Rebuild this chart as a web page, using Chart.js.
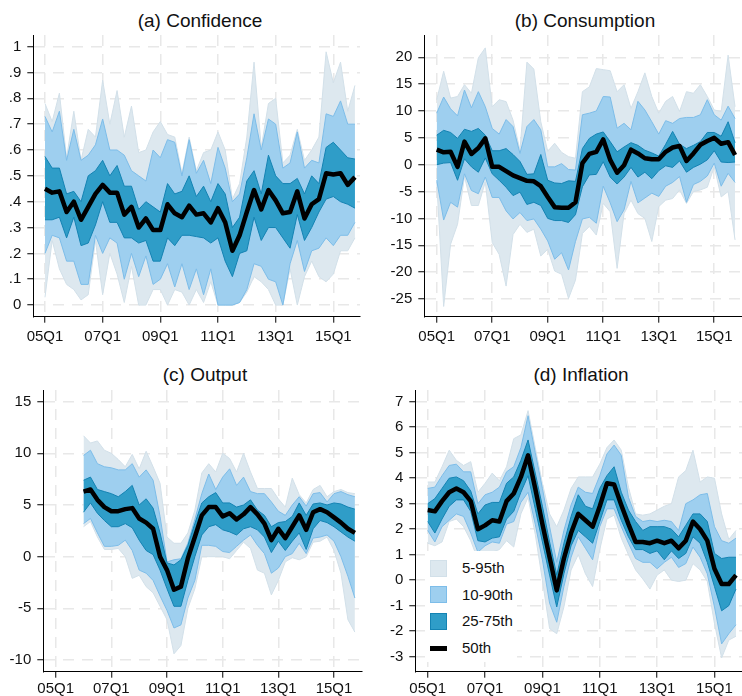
<!DOCTYPE html>
<html>
<head>
<meta charset="utf-8">
<script src="https://cdn.jsdelivr.net/npm/chart.js@4.4.1/dist/chart.umd.min.js"></script>
<style>
  body { margin: 0; background: #fff; width: 742px; height: 696px; position: relative; overflow: hidden;
         font-family: 'Liberation Sans', Arial, Helvetica, sans-serif; color: #111; }
  .panel { position: absolute; }
  .title { position: absolute; width: 300px; text-align: center; font-size: 19px; line-height: 22px; }
  #legend { position: absolute; left: 425px; top: 551px; width: 92px; height: 111px; background: #fff; }
  #legend .sw { position: absolute; left: 5px; width: 15px; height: 15px; }
  #legend .lab { position: absolute; left: 37px; font-size: 15px; line-height: 18px; }
</style>
</head>
<body>

<div class="title" style="left:50px;top:10px">(a) Confidence</div>
<div class="title" style="left:435px;top:10px">(b) Consumption</div>
<div class="title" style="left:55px;top:364px">(c) Output</div>
<div class="title" style="left:431px;top:364px">(d) Inflation</div>

<canvas id="pa" class="panel" style="left:0;top:0" width="371" height="352"></canvas>
<canvas id="pb" class="panel" style="left:371px;top:0" width="371" height="352"></canvas>
<canvas id="pc" class="panel" style="left:0;top:340px" width="371" height="366"></canvas>
<canvas id="pd" class="panel" style="left:371px;top:340px" width="371" height="366"></canvas>

<div id="legend">
  <div class="sw" style="top:9px;background:#dde8ef;border:1px solid #d2e0e9"></div>
  <div class="lab" style="top:8px">5-95th</div>
  <div class="sw" style="top:35px;background:#9ecfef;border:1px solid #7dbde9"></div>
  <div class="lab" style="top:35px">10-90th</div>
  <div class="sw" style="top:62px;background:#2f9dc8;border:1px solid #1483b3"></div>
  <div class="lab" style="top:61px">25-75th</div>
  <div class="sw" style="top:95px;height:5px;width:17px;border:0;background:#000"></div>
  <div class="lab" style="top:88px">50th</div>
</div>

<script>
// quarters 05Q1 .. 15Q4, x = index
const xTickPos = [0, 8, 16, 24, 32, 40];
const xTickLabels = ['05Q1', '07Q1', '09Q1', '11Q1', '13Q1', '15Q1'];

// (a) Confidence
const confTicks = [0, .1, .2, .3, .4, .5, .6, .7, .8, .9, 1];
const confTickLabels = ['0', '.1', '.2', '.3', '.4', '.5', '.6', '.7', '.8', '.9', '1'];
const confP50 = [.45,.435,.44,.36,.40,.33,.38,.43,.465,.435,.435,.35,.38,.30,.335,.29,.29,.39,.355,.34,.385,.35,.355,.32,.375,.32,.21,.27,.36,.445,.37,.445,.405,.355,.36,.44,.335,.39,.41,.51,.505,.51,.465,.495];
const confP75 = [.575,.53,.53,.43,.44,.40,.50,.52,.56,.50,.54,.46,.46,.37,.40,.38,.36,.47,.43,.44,.50,.42,.46,.40,.47,.43,.30,.34,.48,.52,.43,.58,.50,.47,.47,.49,.43,.50,.47,.61,.63,.60,.57,.565];
const confP25 = [.33,.33,.34,.26,.34,.23,.24,.31,.40,.32,.32,.26,.26,.24,.25,.17,.17,.26,.23,.27,.27,.265,.26,.24,.26,.17,.11,.20,.21,.34,.25,.30,.30,.26,.22,.35,.25,.30,.36,.41,.42,.40,.39,.375];
const confP90 = [.73,.67,.75,.56,.68,.56,.58,.62,.72,.60,.60,.58,.52,.50,.48,.60,.57,.64,.63,.50,.64,.51,.56,.47,.61,.53,.40,.43,.57,.74,.60,.72,.70,.53,.55,.67,.53,.56,.55,.74,.73,.79,.70,.70];
const confP10 = [.20,.27,.26,.17,.17,.08,.08,.27,.20,.26,.24,.10,.20,.11,.19,.08,.10,.16,.07,.16,.06,.14,.04,.14,0,0,0,.01,.06,.16,.15,.10,.09,0,.16,.25,.13,.21,.22,.26,.23,.27,.27,.32];
const confP95 = [.78,.71,.82,.57,.75,.56,.68,.65,.87,.70,.83,.65,.77,.59,.60,.67,.71,.66,.65,.51,.65,.52,.59,.60,.67,.60,.41,.47,.65,.94,.61,.78,.80,.55,.58,.68,.56,.60,.65,.98,.86,.94,.75,.85];
const confP5 = [.03,.25,.14,.08,.06,.02,.04,.25,.04,.20,.12,.01,.15,0,0,.06,.06,0,.06,.05,0,.06,.01,.09,0,0,0,.01,.05,.11,.09,.06,0,0,.14,0,.11,.17,.11,.09,.12,.21,.21,.26];

// (b) Consumption
const consTicks = [-25, -20, -15, -10, -5, 0, 5, 10, 15, 20];
const consTickLabels = ['-25', '-20', '-15', '-10', '-5', '0', '5', '10', '15', '20'];
const consP50 = [2.8,2.3,2.4,-0.4,4.3,2.0,3.1,4.9,-0.4,-0.4,-1.2,-2.0,-2.5,-3.0,-3.1,-4.0,-6.0,-7.9,-8.0,-8.0,-7.0,0.3,2.0,2.4,4.7,0.9,-1.5,-0.1,2.8,2.1,1.2,1.0,1.0,2.4,3.2,3.5,0.7,2.1,3.7,4.4,5.0,3.9,4.2,1.8];
const consP75 = [5.5,6.4,6.0,4.9,6.6,6.2,6.75,5.5,2.6,2.6,3.0,1.9,0.6,-1.8,-1.7,1.9,-2.9,-3.4,-3.5,-3.0,-3.1,3.0,4.9,5.7,6.1,4.3,2.4,3.3,4.1,3.6,2.7,2.2,1.6,3.8,6.2,3.8,3.0,3.6,4.3,6.0,6.0,5.3,8.0,4.1];
const consP25 = [0,0.3,0.4,-2.9,1.1,-0.4,-1.4,1.25,-1.7,-2.9,-4.2,-5.75,-5.1,-7.4,-7.0,-7.6,-10.0,-10.4,-10.4,-10.75,-9.3,-4.1,-1.9,-1.8,0.56,-2.3,-3.6,-2.3,-0.5,-2.3,-1.4,-2.6,-1.1,-0.2,-0.5,0.7,-1.4,-0.5,0.1,0.9,2.6,0.5,0.4,0.5];
const consP90 = [9.6,12.6,10.4,9.1,13.9,10.6,13.6,10.8,6.75,5.7,8.4,7.1,2.1,7.1,8.4,6.5,-0.4,-0.4,0.2,-0.9,-1.0,9.3,9.6,10.0,12.7,12.6,6.8,7.7,6.5,11.8,10.2,8.0,5.7,8.2,7.7,8.6,8.8,8.8,9.3,12.1,9.3,8.3,10.9,8.6];
const consP10 = [-2.9,-10.3,-7.0,-7.9,-1.7,-4.8,-5.4,-2.3,-6.1,-6.1,-8.6,-10.1,-8.9,-10.4,-10.1,-12.0,-14.2,-17.6,-16.4,-19.6,-14.3,-10.1,-9.8,-10.9,-4.0,-7.1,-10.6,-8.4,-3.1,-7.1,-6.2,-5.3,-5.9,-4.0,-3.3,-2.2,-7.0,-3.7,-3.1,-2.1,0.3,-4.0,-1.6,-3.3];
const consP95 = [12.1,17.4,12.4,12.7,14.9,13.3,19.9,21.75,10.8,12.1,11.75,8.3,2.7,19.1,17.8,8.0,2.5,4.0,2.3,1.5,1.2,13.6,14.5,17.9,17.7,17.5,13.6,14.9,10.5,13.6,17.1,12.7,9.6,11.8,12.7,9.9,13.6,13.3,14.9,12.7,10.2,9.9,20.4,10.8];
const consP5 = [-3.2,-26.4,-14.8,-11.1,-2.2,-7.6,-7.6,-3.25,-14.5,-16.7,-22.6,-13.0,-11.1,-12.6,-12.0,-17.0,-15.75,-19.8,-20.4,-24.9,-21.5,-12.8,-11.5,-13.1,-7.2,-8.75,-19.3,-9.1,-6.6,-9.1,-10.0,-14.3,-7.8,-6.6,-6.3,-4.7,-7.2,-5.0,-4.7,-4.2,-0.4,-6.0,-5.0,-14.0];

// (c) Output (starts 06Q1)
const outTicks = [-10, -5, 0, 5, 10, 15];
const outTickLabels = ['-10', '-5', '0', '5', '10', '15'];
const outP50 = [null,null,null,null,6.3,6.5,5.5,4.8,4.4,4.4,4.6,4.7,3.7,3.3,2.7,0,-1.3,-3.2,-2.9,-0.15,1.9,4.0,4.8,4.8,3.9,4.2,3.6,4.1,4.8,4.1,3.2,1.6,2.7,1.8,2.9,4.0,2.6,4.3,4.6,4.3,3.8,3.3,2.7,2.3];
const outP75 = [null,null,null,null,7.4,7.7,6.5,6.3,6.1,5.8,6.3,6.9,5.0,5.6,4.7,2.3,-0.6,-0.8,-0.3,1.1,3.2,5.2,5.8,6.2,5.2,5.2,4.8,5.0,5.5,4.5,4.0,2.9,3.3,3.4,3.9,5.2,4.0,5.1,5.2,5.0,5.2,5.1,4.8,4.6];
const outP25 = [null,null,null,null,4.3,5.2,4.2,3.5,2.9,2.9,3.2,2.8,1.6,0.6,0.2,-1.3,-3.1,-4.8,-4.8,-2.3,0,2.1,2.9,3.1,2.6,2.4,2.1,2.7,2.9,2.6,1.9,0.4,1.5,0.6,1.5,2.3,0.7,2.7,3.5,3.3,2.9,2.4,1.9,1.5];
const outP90 = [null,null,null,null,9.8,10.3,9.0,8.7,8.6,8.4,8.4,9.0,7.7,8.4,7.4,3.9,-0.5,-0.3,-0.2,1.3,3.6,6.1,8.0,6.5,7.7,8.5,6.9,7.7,6.3,6.1,6.1,5.3,4.4,4.0,5.0,5.8,4.9,6.1,6.2,5.3,6.1,6.3,6.0,5.8];
const outP10 = [null,null,null,null,3.2,3.7,2.3,1.0,1.0,1.1,1.6,0.6,-1.3,-1.6,-2.3,-3.8,-5.2,-6.9,-6.6,-4.0,-2.3,1.1,1.1,1.0,0.5,0.4,1.0,1.6,2.1,1.1,0.3,-1.6,-1.1,0,0.3,1.3,0.3,1.8,1.9,2.1,1.5,0,-1.9,-4.0];
const outP95 = [null,null,null,null,11.7,11.0,11.2,10.3,10.0,9.4,8.7,9.9,8.5,10.2,8.7,7.1,1.9,1.3,1.3,2.3,4.5,8.1,9.0,8.2,10.0,9.5,8.2,10.0,8.2,6.6,6.6,6.6,5.6,4.8,7.6,6.0,5.2,6.5,6.9,5.8,6.3,6.5,6.2,6.1];
const outP5 = [null,null,null,null,2.9,3.4,1.9,0.7,0.7,0.8,0,-2.1,-1.8,-2.9,-3.5,-4.8,-6.1,-9.4,-8.6,-5.0,-3.1,0,0,0,0,-0.2,0.6,1.4,0.8,-1.3,-1.6,-3.7,-2.3,-0.5,-0.1,-0.3,0,1.4,1.5,1.9,0.6,-1.6,-6.1,-7.3];

// (d) Inflation
const inflTicks = [-3, -2, -1, 0, 1, 2, 3, 4, 5, 6, 7];
const inflTickLabels = ['-3', '-2', '-1', '0', '1', '2', '3', '4', '5', '6', '7'];
const inflP50 = [2.75,2.7,3.1,3.45,3.6,3.45,3.1,2.0,2.15,2.35,2.3,3.1,3.4,4.05,4.9,3.6,2.2,0.9,-0.4,0.85,1.85,2.6,2.35,2.1,2.9,3.8,3.75,2.95,2.2,1.5,1.5,1.45,1.55,1.45,1.55,1.25,1.55,2.3,2.0,1.55,0.45,-0.15,-0.15,0.2];
const inflP75 = [3.0,3.2,3.6,4.0,4.05,3.9,3.5,2.6,2.95,3.05,3.05,3.8,4.05,4.7,5.5,4.2,2.9,1.5,0.2,1.45,2.5,3.35,2.9,2.8,3.6,4.1,4.45,3.45,2.75,2.3,1.95,2.1,2.1,2.1,2.0,1.7,2.15,2.6,2.6,2.3,1.05,0.85,0.9,0.9];
const inflP25 = [2.3,1.85,2.4,2.9,3.15,3.15,2.7,1.55,1.5,1.65,1.7,2.4,2.7,3.45,4.1,2.8,1.5,0.2,-1.05,0.25,1.35,1.95,1.7,1.45,2.3,3.15,3.15,2.35,1.7,1.2,1.2,1.05,1.15,0.8,1.15,0.85,1.05,1.7,1.45,0.7,-0.25,-1.2,-1.0,-0.35];
const inflP90 = [3.6,3.65,4.1,4.5,4.55,4.25,4.25,3.0,3.35,3.45,3.65,4.25,4.45,5.2,6.45,5.0,3.6,2.1,0.7,1.95,2.95,3.65,3.45,3.4,4.1,4.95,5.3,4.9,3.25,2.5,2.3,2.35,2.3,2.35,2.3,1.95,3.0,3.15,3.35,3.4,2.1,1.55,1.45,1.65];
const inflP10 = [1.95,1.5,2.1,2.35,2.6,2.5,1.85,1.1,1.35,1.5,1.45,2.2,2.3,3.05,3.45,2.2,0.8,-0.9,-1.65,-0.25,0.9,1.7,1.25,0.8,2.1,2.8,2.8,2.1,1.45,0.85,0.7,0.7,0.45,0.7,0.9,0.5,0.65,1.3,0.9,0.25,-1.05,-2.5,-2.1,-1.75];
const inflP95 = [3.85,3.85,4.45,5.1,4.7,4.5,4.65,3.45,3.8,4.2,3.9,4.45,5.55,5.7,6.65,5.2,3.8,2.6,2.1,2.75,3.6,4.05,4.05,4.05,4.55,5.2,5.5,5.1,3.65,2.6,2.55,2.6,2.75,2.9,3.0,4.05,4.3,5.1,3.85,4.05,4.0,2.6,1.6,1.95];
const inflP5 = [1.45,1.35,1.5,2.3,2.4,2.1,1.55,0.8,1.0,1.1,1.2,1.55,1.3,2.6,3.25,1.8,0.0,-1.9,-2.1,-1.05,0.4,1.0,0.25,-0.25,1.2,2.4,2.55,1.65,1.0,0.4,0.05,-0.35,0.2,0.4,0,-0.05,0,0.65,0.4,-0.05,-1.7,-3.05,-2.35,-2.2];

const FILL95 = '#dde8ef', EDGE95 = '#d2e0e9';
const FILL90 = '#9ecfef', EDGE90 = '#7dbde9';
const FILL75 = '#2f9dc8', EDGE75 = '#1483b3';
const FONT = {family: "'Liberation Sans', Arial, Helvetica, sans-serif", size: 15};

const pts = (arr) => arr.map((v, i) => ({x: i, y: v})).filter((p) => p.y !== null);

function band(hi, lo, fillColor, edge, order) {
    const base = {pointRadius: 0, tension: 0, borderWidth: 1, borderColor: edge};
    return [
        {...base, data: pts(hi), backgroundColor: fillColor, fill: '+1', order: order + 1},
        {...base, data: pts(lo), fill: false, order: order},
    ];
}

function makePanel(id, p) {
    const canvas = document.getElementById(id);
    const W = canvas.width, H = canvas.height;
    const datasets = [
        {data: pts(p.p50), borderColor: '#000', borderWidth: 4.5, borderJoinStyle: 'round',
         pointRadius: 0, tension: 0, fill: false, order: 0},
        ...band(p.p75, p.p25, FILL75, EDGE75, 2),
        ...band(p.p90, p.p10, FILL90, EDGE90, 4),
        ...band(p.p95, p.p5, FILL95, EDGE95, 6),
    ];
    const grid = {color: '#e8e8e8', lineWidth: 1.5, drawTicks: true, tickLength: 6, tickColor: '#000', tickWidth: 1};
    const border = {display: true, color: '#000', width: 1, dash: [11, 8]};
    // axis boxes take the whole margin so the tick labels are not clipped
    const yW = p.area[0], xH = H - p.area[3];
    new Chart(canvas, {
        type: 'line',
        data: {datasets},
        options: {
            responsive: false,
            animation: false,
            devicePixelRatio: 1,
            events: [],
            layout: {padding: {left: 0, top: p.area[1], right: W - p.area[2], bottom: 0}},
            plugins: {legend: {display: false}, tooltip: {enabled: false}, title: {display: false}},
            scales: {
                x: {
                    type: 'linear', min: p.xMin, max: p.xMax,
                    grid, border,
                    afterFit: (s) => { s.height = xH; },
                    afterBuildTicks: (s) => { s.ticks = xTickPos.map((v) => ({value: v})); },
                    ticks: {font: FONT, color: '#111', padding: p.xPad, maxRotation: 0, autoSkip: false,
                            callback: (v, i) => xTickLabels[i]},
                },
                y: {
                    type: 'linear', min: p.yMin, max: p.yMax,
                    grid, border,
                    afterFit: (s) => { s.width = yW; },
                    afterBuildTicks: (s) => { s.ticks = p.ticks.map((v) => ({value: v})); },
                    ticks: {font: FONT, color: '#111', padding: 6, autoSkip: false,
                            callback: (v, i) => p.tickLabels[i]},
                },
            },
        },
    });
}

makePanel('pa', {p50: confP50, p75: confP75, p25: confP25, p90: confP90, p10: confP10, p95: confP95, p5: confP5,
    ticks: confTicks, tickLabels: confTickLabels, yMin: -0.045, yMax: 1.045, xMin: -1.62, xMax: 43.7,
    area: [33.3, 35, 360, 316.7], xPad: 5});
makePanel('pb', {p50: consP50, p75: consP75, p25: consP25, p90: consP90, p10: consP10, p95: consP95, p5: consP5,
    ticks: consTicks, tickLabels: consTickLabels, yMin: -28.3, yMax: 24.15, xMin: -1.79, xMax: 44.0,
    area: [53.3, 35, 371, 316.7], xPad: 5});
makePanel('pc', {p50: outP50, p75: outP75, p25: outP25, p90: outP90, p10: outP10, p95: outP95, p5: outP5,
    ticks: outTicks, tickLabels: outTickLabels, yMin: -11.13, yMax: 16.13, xMin: -1.78, xMax: 43.98,
    area: [43.3, 50, 361.7, 331.7], xPad: 2});
makePanel('pd', {p50: inflP50, p75: inflP75, p25: inflP25, p90: inflP90, p10: inflP10, p95: inflP95, p5: inflP5,
    ticks: inflTicks, tickLabels: inflTickLabels, yMin: -3.59, yMax: 7.46, xMin: -1.73, xMax: 43.84,
    area: [44.3, 50, 371, 331.7], xPad: 2});
</script>
</body>
</html>
